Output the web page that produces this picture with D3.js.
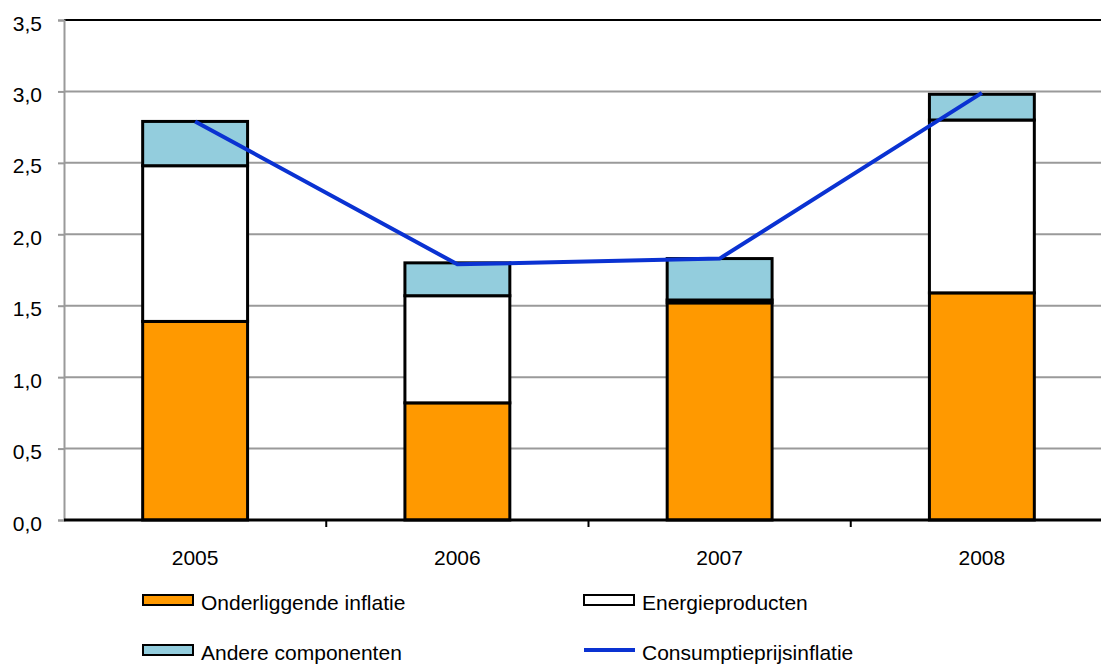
<!DOCTYPE html>
<html>
<head>
<meta charset="utf-8">
<script src="https://cdn.jsdelivr.net/npm/d3@7/dist/d3.min.js"></script>
<style>
  html, body { margin: 0; padding: 0; background: #fff; }
  svg { display: block; }
  text { font-family: "Liberation Sans", Arial, sans-serif; fill: #000; }
</style>
</head>
<body>
<svg id="chart" width="1101" height="664"></svg>
<script>
// Categories (years)
const years = ["2005", "2006", "2007", "2008"];
// Stacked components (percentage points)
const onderliggend = [1.39, 0.82, 1.52, 1.59];
const energie = [1.09, 0.75, 0.02, 1.21];
const andere = [0.31, 0.23, 0.29, 0.18];
// Headline consumer price inflation
const cpi = [2.79, 1.79, 1.83, 2.99];
// Axis ticks
const yTicks = [0, 0.5, 1.0, 1.5, 2.0, 2.5, 3.0, 3.5];

const seriesNames = ["Onderliggende inflatie", "Energieproducten", "Andere componenten", "Consumptieprijsinflatie"];
const colors = { onder: "#ff9900", energie: "#ffffff", andere: "#93cddd", cpi: "#0a32d2" };
const FONT = 21;

const svg = d3.select("#chart");
const m = { left: 64, right: 1113, top: 20, bottom: 520 };

const x = d3.scaleBand().domain(years).range([m.left, m.right]).paddingInner(0).paddingOuter(0);
const y = d3.scaleLinear().domain([0, 3.5]).range([m.bottom, m.top]);

// Gridlines
svg.append("g").selectAll("line")
  .data(yTicks.filter(t => t > 0 && t < 3.5))
  .join("line")
  .attr("x1", m.left).attr("x2", m.right)
  .attr("y1", d => y(d)).attr("y2", d => y(d))
  .attr("stroke", "#9a9a9a").attr("stroke-width", 2);

// Top border of the plot area
svg.append("line")
  .attr("x1", m.left).attr("x2", m.right)
  .attr("y1", y(3.5)).attr("y2", y(3.5))
  .attr("stroke", "#000").attr("stroke-width", 2);

// Y axis
const yAxis = d3.axisLeft(y).tickValues(yTicks).tickSize(6).tickPadding(16)
  .tickFormat(d => d3.format(".1f")(d).replace(".", ","));
const gy = svg.append("g").attr("transform", `translate(${m.left},0)`).call(yAxis);
gy.select(".domain").attr("stroke", "#9a9a9a").attr("stroke-width", 2);
gy.selectAll(".tick line").attr("stroke", "#9a9a9a").attr("stroke-width", 2);
gy.selectAll(".tick text")
  .attr("font-size", FONT)
  .attr("font-family", "'Liberation Sans', Arial, sans-serif")
  .attr("dy", "0.48em");

// Stacked bars
const stackData = years.map((yr, i) => ({ year: yr, onder: onderliggend[i], energie: energie[i], andere: andere[i] }));
const stack = d3.stack().keys(["onder", "energie", "andere"]);
const layers = stack(stackData);
const barW = x.bandwidth() * 0.4;

svg.append("g").selectAll("g")
  .data(layers)
  .join("g")
  .attr("fill", d => colors[d.key])
  .selectAll("rect")
  .data(d => d)
  .join("rect")
  .attr("x", d => x(d.data.year) + (x.bandwidth() - barW) / 2)
  .attr("width", barW)
  .attr("y", d => y(d[1]))
  .attr("height", d => y(d[0]) - y(d[1]))
  .attr("stroke", "#000")
  .attr("stroke-width", 3);

// X axis
const xAxis = d3.axisBottom(x).tickSize(0).tickPadding(0);
const gx = svg.append("g").attr("transform", `translate(0,${m.bottom})`).call(xAxis);
gx.select(".domain").remove();
gx.selectAll(".tick text")
  .attr("font-size", FONT)
  .attr("font-family", "'Liberation Sans', Arial, sans-serif")
  .attr("y", 45).attr("dy", 0);
svg.append("line")
  .attr("x1", m.left).attr("x2", m.right)
  .attr("y1", m.bottom).attr("y2", m.bottom)
  .attr("stroke", "#000").attr("stroke-width", 3);
// Category separator ticks
svg.append("g").selectAll("line")
  .data(years.slice(1))
  .join("line")
  .attr("x1", d => x(d)).attr("x2", d => x(d))
  .attr("y1", m.bottom).attr("y2", m.bottom + 7)
  .attr("stroke", "#000").attr("stroke-width", 2);

// CPI line
const line = d3.line()
  .x((d, i) => x(years[i]) + x.bandwidth() / 2)
  .y(d => y(d));
svg.append("path")
  .datum(cpi)
  .attr("d", line)
  .attr("fill", "none")
  .attr("stroke", colors.cpi)
  .attr("stroke-width", 4);

// Legend
const legend = [
  { name: seriesNames[0], type: "rect", fill: colors.onder, x: 143, y: 600 },
  { name: seriesNames[1], type: "rect", fill: colors.energie, x: 584, y: 600 },
  { name: seriesNames[2], type: "rect", fill: colors.andere, x: 143, y: 650 },
  { name: seriesNames[3], type: "line", fill: colors.cpi, x: 584, y: 650 }
];
const lg = svg.append("g").selectAll("g").data(legend).join("g")
  .attr("transform", d => `translate(${d.x},${d.y})`);
lg.filter(d => d.type === "rect").append("rect")
  .attr("x", 0).attr("y", -5).attr("width", 50).attr("height", 10)
  .attr("fill", d => d.fill).attr("stroke", "#000").attr("stroke-width", 2);
lg.filter(d => d.type === "line").append("line")
  .attr("x1", 0).attr("x2", 51).attr("y1", 0).attr("y2", 0)
  .attr("stroke", d => d.fill).attr("stroke-width", 4);
lg.append("text")
  .attr("x", 58).attr("y", 10)
  .attr("font-size", FONT)
  .text(d => d.name);
</script>
</body>
</html>
